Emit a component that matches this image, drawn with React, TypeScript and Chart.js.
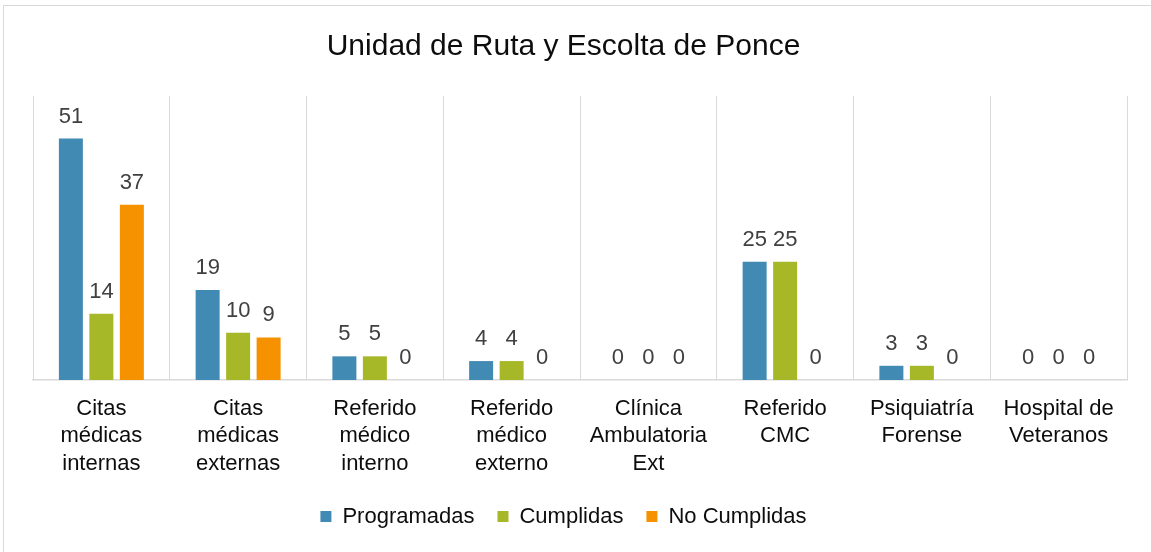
import React, { useEffect, useRef } from "react";
import { Chart, registerables } from "chart.js";

Chart.register(...registerables);

const TITLE = "Unidad de Ruta y Escolta de Ponce";
const categories: string[][] = [
  ["Citas", "médicas", "internas"],
  ["Citas", "médicas", "externas"],
  ["Referido", "médico", "interno"],
  ["Referido", "médico", "externo"],
  ["Clínica", "Ambulatoria", "Ext"],
  ["Referido", "CMC"],
  ["Psiquiatría", "Forense"],
  ["Hospital de", "Veteranos"],
];
const programadas = [51, 19, 5, 4, 0, 25, 3, 0];
const cumplidas = [14, 10, 5, 4, 0, 25, 3, 0];
const noCumplidas = [37, 9, 0, 0, 0, 0, 0, 0];
const seriesNames = ["Programadas", "Cumplidas", "No Cumplidas"];
const seriesColors = ["#418AB3", "#A6B727", "#F69200"];

const FONT = '"Liberation Sans", Arial, sans-serif';

const dataLabelPlugin = {
  id: "dataLabels",
  afterDatasetsDraw(chart: any) {
    const ctx = chart.ctx;
    ctx.save();
    ctx.font = `22px ${FONT}`;
    ctx.fillStyle = "#404040";
    ctx.textAlign = "center";
    ctx.textBaseline = "alphabetic";
    chart.data.datasets.forEach((ds: any, di: number) => {
      const meta = chart.getDatasetMeta(di);
      meta.data.forEach((el: any, i: number) => {
        ctx.fillText(String(ds.data[i]), el.x, el.y - 16);
      });
    });
    ctx.restore();
  },
};

export default function App() {
  const ref = useRef<HTMLCanvasElement | null>(null);
  useEffect(() => {
    if (!ref.current) return;
    const data = [programadas, cumplidas, noCumplidas];
    const chart = new Chart(ref.current, {
      type: "bar",
      data: {
        labels: categories,
        datasets: seriesNames.map((name, i) => ({
          label: name,
          data: data[i],
          backgroundColor: seriesColors[i],
          borderWidth: 0,
          categoryPercentage: 0.669,
          barPercentage: 0.787,
        })),
      },
      options: {
        responsive: false,
        animation: false,
        devicePixelRatio: 1,
        layout: { padding: { left: 0, right: 24, top: 0, bottom: 14.5 } },
        plugins: {
          tooltip: { enabled: false },
          title: {
            display: true,
            text: TITLE,
            color: "#0d0d0d",
            font: { family: FONT, size: 30, weight: "normal", lineHeight: 1.2 },
            padding: { top: 29, bottom: 31 },
          },
          legend: {
            position: "bottom",
            labels: {
              color: "#0d0d0d",
              font: { family: FONT, size: 22 },
              boxWidth: 11,
              boxHeight: 11,
              padding: 23,
            },
          },
        },
        scales: {
          x: {
            grid: { display: true, color: "#d9d9d9", lineWidth: 1, drawTicks: false, offset: true },
            border: { display: true, color: "#d9d9d9", width: 1.5 },
            ticks: {
              color: "#0d0d0d",
              font: { family: FONT, size: 22, lineHeight: 1.25 },
              padding: 15,
              autoSkip: false,
              maxRotation: 0,
              minRotation: 0,
            },
            afterFit: (s: any) => {
              s.height = 102.5;
            },
          },
          y: {
            position: "left",
            min: 0,
            max: 60,
            ticks: { display: false },
            grid: { display: false },
            border: { display: false },
            afterFit: (s: any) => {
              s.width = 33;
            },
          },
        },
      },
      plugins: [dataLabelPlugin],
    } as any);
    return () => chart.destroy();
  }, []);

  return (
    <div style={{ position: "fixed", left: 0, top: 0, width: 1151, height: 552, overflow: "hidden", background: "#fff" }}>
      <div
        style={{
          position: "absolute",
          left: 3,
          top: 5,
          width: 1200,
          height: 600,
          border: "1px solid #d9d9d9",
          boxSizing: "border-box",
        }}
      />
      <canvas
        ref={ref}
        width={1151}
        height={552}
        style={{ position: "absolute", left: 0, top: 0, width: 1151, height: 552 }}
      />
    </div>
  );
}
